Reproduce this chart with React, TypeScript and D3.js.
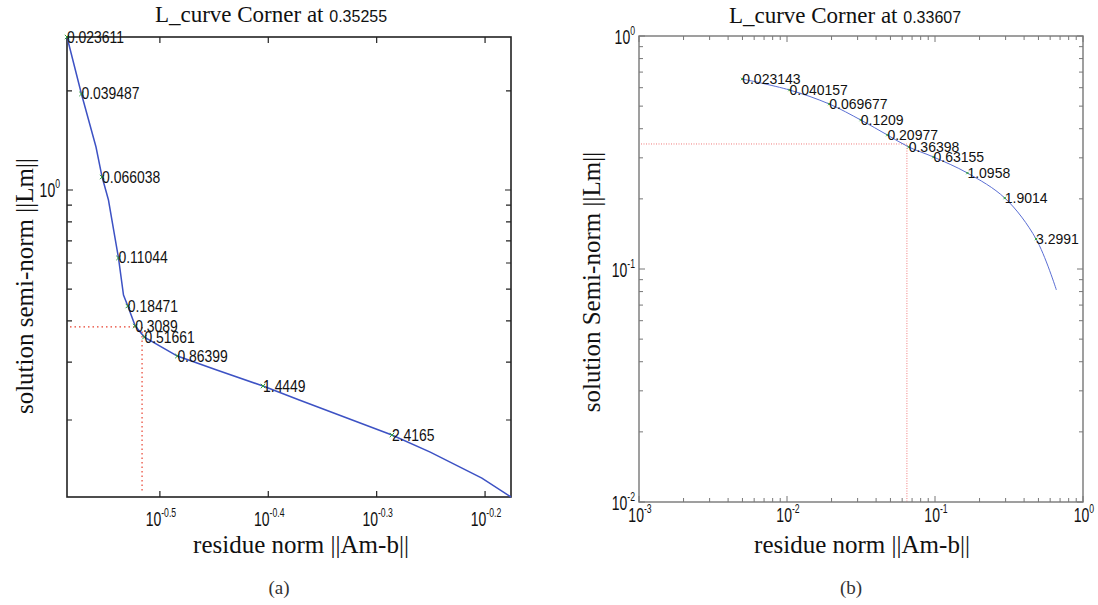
import React from "react";
import * as d3 from "d3";

// ---------- Panel (a) ----------
const lambdaA = [0.023611, 0.039487, 0.066038, 0.11044, 0.18471, 0.3089, 0.51661, 0.86399, 1.4449, 2.4165];
const residueA = [0.2596, 0.2677, 0.2797, 0.2896, 0.2954, 0.3001, 0.306, 0.3282, 0.3937, 0.5177];
const seminormA = [2.917, 1.958, 1.095, 0.6215, 0.4441, 0.386, 0.3573, 0.3129, 0.2537, 0.18];
// sampled L-curve vertices
const curveResA = [0.2596, 0.2677, 0.2761, 0.2797, 0.2835, 0.2896, 0.2927, 0.2954, 0.3001, 0.306, 0.3282, 0.3568, 0.3937, 0.4252, 0.5177, 0.5616, 0.6267, 0.6667];
const curveSemiA = [2.917, 1.958, 1.351, 1.095, 0.9324, 0.6215, 0.4796, 0.4441, 0.386, 0.3573, 0.3129, 0.2837, 0.2537, 0.23, 0.18, 0.1598, 0.1332, 0.1167];
const cornerA = { res: 0.3019, semi: 0.3835, lambda: "0.35255" };
const xTickExpA = [-0.5, -0.4, -0.3, -0.2];
const xTickLabelA = ["-0.5", "-0.4", "-0.3", "-0.2"];
const yTicksA = [2, 1, 0.9, 0.8, 0.7, 0.6, 0.5, 0.4, 0.3, 0.2];

// ---------- Panel (b) ----------
const lambdaB = ["0.023143", "0.040157", "0.069677", "0.1209", "0.20977", "0.36398", "0.63155", "1.0958", "1.9014", "3.2991"];
const residueB = [0.00498, 0.0104, 0.0193, 0.0315, 0.0477, 0.0664, 0.0977, 0.1656, 0.296, 0.482];
const seminormB = [0.654, 0.5865, 0.5107, 0.436, 0.3759, 0.334, 0.3024, 0.2582, 0.2017, 0.1345];
const curveEndB = { res: 0.661, semi: 0.0813 };
const cornerB = { res: 0.0646, semi: 0.344, lambda: "0.33607" };
const xDecadesB = [-3, -2, -1, 0];
const yDecadesB = [-2, -1, 0];

const W = 1098;
const H = 605;

const SERIF = "'Liberation Serif', 'Times New Roman', serif";
const SANS = "'Liberation Sans', Arial, sans-serif";

const lineBlue = "#3d52c4";
const markGreen = "#2f9e3a";

// "10" with a raised exponent, drawn horizontally condensed
function Pow10({ x, y, exp, anchor, sx = 0.7, size = 20 }: { x: number; y: number; exp: string; anchor: "middle" | "end"; sx?: number; size?: number }) {
  return (
    <text transform={`translate(${x},${y}) scale(${sx},1)`} textAnchor={anchor} fontFamily={SANS} fontSize={size} fill="#111">
      <tspan>10</tspan>
      <tspan dy={-9} fontSize={size * 0.62}>{exp}</tspan>
    </text>
  );
}

function Cross({ x, y, r, color }: { x: number; y: number; r: number; color: string }) {
  return (
    <path d={`M${x - r},${y - r}L${x + r},${y + r}M${x - r},${y + r}L${x + r},${y - r}`} stroke={color} strokeWidth={1} />
  );
}

function PanelA() {
  const left = 67, right = 511, top = 37, bottom = 497;
  const x = d3.scaleLog().domain(d3.extent(curveResA) as [number, number]).range([left, right]);
  const y = d3.scaleLog().domain(d3.extent(curveSemiA) as [number, number]).range([bottom, top]);
  const line = d3.line<number>().x((_, i) => x(curveResA[i])).y((_, i) => y(curveSemiA[i]));
  const cx = x(cornerA.res), cy = y(cornerA.semi);
  return (
    <g>
      <text x={271} y={22} textAnchor="middle" fontFamily={SERIF} fontSize={23} fill="#111">
        L_curve Corner at{" "}
        <tspan fontFamily={SANS} fontSize={16}>{cornerA.lambda}</tspan>
      </text>
      {/* corner guides */}
      <path d={`M${left + 3},${cy}L${cx - 3},${cy}M${cx + 4},${cy}L${cx + 4},${bottom - 5}`} stroke="#e8402f" strokeWidth={1.2} strokeDasharray="1.5 3" fill="none" />
      {/* ticks */}
      {xTickExpA.map((e) => {
        const px = x(Math.pow(10, e));
        return <path key={e} d={`M${px},${bottom}V${bottom - 6}M${px},${top}V${top + 6}`} stroke="#222" strokeWidth={1.2} />;
      })}
      {yTicksA.map((v) => {
        const py = y(v);
        const len = v === 1 ? 6 : 5;
        return <path key={v} d={`M${left},${py}H${left + len}M${right},${py}H${right - len}`} stroke="#222" strokeWidth={1.2} />;
      })}
      <rect x={left} y={top} width={right - left} height={bottom - top} fill="none" stroke="#222" strokeWidth={1.6} />
      <path d={line(curveResA) || ""} fill="none" stroke={lineBlue} strokeWidth={1.5} />
      {residueA.map((r, i) => (
        <g key={i}>
          <Cross x={x(r)} y={y(seminormA[i])} r={2.2} color={markGreen} />
          <text transform={`translate(${x(r)},${y(seminormA[i]) + 5.5}) scale(0.87,1)`} fontFamily={SANS} fontSize={16} fill="#111">
            {String(lambdaA[i])}
          </text>
        </g>
      ))}
      {xTickExpA.map((e, i) => (
        <Pow10 key={e} x={x(Math.pow(10, e)) + 1} y={526} exp={xTickLabelA[i]} anchor="middle" />
      ))}
      <Pow10 x={left - 7} y={y(1) + 7} exp="0" anchor="end" />
      <text x={301} y={553} textAnchor="middle" fontFamily={SERIF} fontSize={25} fill="#111">residue norm ||Am-b||</text>
      <text transform={`translate(33,${286}) rotate(-90)`} textAnchor="middle" fontFamily={SERIF} fontSize={25} fill="#111">
        solution semi-norm ||Lm||
      </text>
      <text x={279} y={594} textAnchor="middle" fontFamily={SERIF} fontSize={19} fill="#333">(a)</text>
    </g>
  );
}

function PanelB() {
  const left = 639, right = 1083, top = 36, bottom = 502;
  const x = d3.scaleLog().domain([1e-3, 1]).range([left, right]);
  const y = d3.scaleLog().domain([1e-2, 1]).range([bottom, top]);
  const pts: [number, number][] = residueB.map((r, i) => [x(r), y(seminormB[i])]);
  pts.push([x(curveEndB.res), y(curveEndB.semi)]);
  const line = d3.line().curve(d3.curveCatmullRom.alpha(0.5));
  const cx = x(cornerB.res), cy = y(cornerB.semi);
  const minorX: number[] = [];
  xDecadesB.slice(0, -1).forEach((e) => {
    for (let k = 2; k <= 9; k++) minorX.push(k * Math.pow(10, e));
  });
  const minorY: number[] = [];
  yDecadesB.slice(0, -1).forEach((e) => {
    for (let k = 2; k <= 9; k++) minorY.push(k * Math.pow(10, e));
  });
  const axisCol = "#777";
  return (
    <g>
      <text x={845} y={23} textAnchor="middle" fontFamily={SERIF} fontSize={23} fill="#111">
        L_curve Corner at{" "}
        <tspan fontFamily={SANS} fontSize={16}>{cornerB.lambda}</tspan>
      </text>
      <path d={`M${left + 2},${cy}H${cx}V${bottom}`} stroke="#f07a7a" strokeWidth={1} strokeDasharray="1 1.5" fill="none" />
      {minorX.map((v) => {
        const px = x(v);
        return <path key={v} d={`M${px},${bottom}V${bottom - 4}M${px},${top}V${top + 4}`} stroke={axisCol} strokeWidth={1} />;
      })}
      {xDecadesB.map((e) => {
        const px = x(Math.pow(10, e));
        return <path key={e} d={`M${px},${bottom}V${bottom - 6}M${px},${top}V${top + 6}`} stroke={axisCol} strokeWidth={1} />;
      })}
      {minorY.map((v) => {
        const py = y(v);
        return <path key={v} d={`M${left},${py}H${left + 4}M${right},${py}H${right - 4}`} stroke={axisCol} strokeWidth={1} />;
      })}
      {yDecadesB.map((e) => {
        const py = y(Math.pow(10, e));
        return <path key={e} d={`M${left},${py}H${left + 6}M${right},${py}H${right - 6}`} stroke={axisCol} strokeWidth={1} />;
      })}
      <rect x={left} y={top} width={right - left} height={bottom - top} fill="none" stroke={axisCol} strokeWidth={1.4} />
      <path d={line(pts) || ""} fill="none" stroke="#5a6ed4" strokeWidth={1} />
      {residueB.map((r, i) => (
        <g key={i}>
          <Cross x={x(r)} y={y(seminormB[i])} r={1.2} color={markGreen} />
          <text x={x(r)} y={y(seminormB[i]) + 5} fontFamily={SANS} fontSize={14} fill="#111">
            {lambdaB[i]}
          </text>
        </g>
      ))}
      {xDecadesB.map((e) => (
        <Pow10 key={e} x={x(Math.pow(10, e)) + 1} y={522} exp={String(e)} anchor="middle" />
      ))}
      {yDecadesB.map((e) => (
        <Pow10 key={e} x={left - 4} y={y(Math.pow(10, e)) + 8} exp={String(e)} anchor="end" />
      ))}
      <text x={862} y={553} textAnchor="middle" fontFamily={SERIF} fontSize={25} fill="#111">residue norm ||Am-b||</text>
      <text transform={`translate(600,${282}) rotate(-90)`} textAnchor="middle" fontFamily={SERIF} fontSize={25} fill="#111">
        solution Semi-norm ||Lm||
      </text>
      <text x={851} y={594} textAnchor="middle" fontFamily={SERIF} fontSize={19} fill="#333">(b)</text>
    </g>
  );
}

export default function App() {
  return (
    <svg width={W} height={H} viewBox={`0 0 ${W} ${H}`} style={{ display: "block", position: "absolute", left: 0, top: 0, background: "#fff" }}>
      <rect width={W} height={H} fill="#fff" />
      <PanelA />
      <PanelB />
    </svg>
  );
}
